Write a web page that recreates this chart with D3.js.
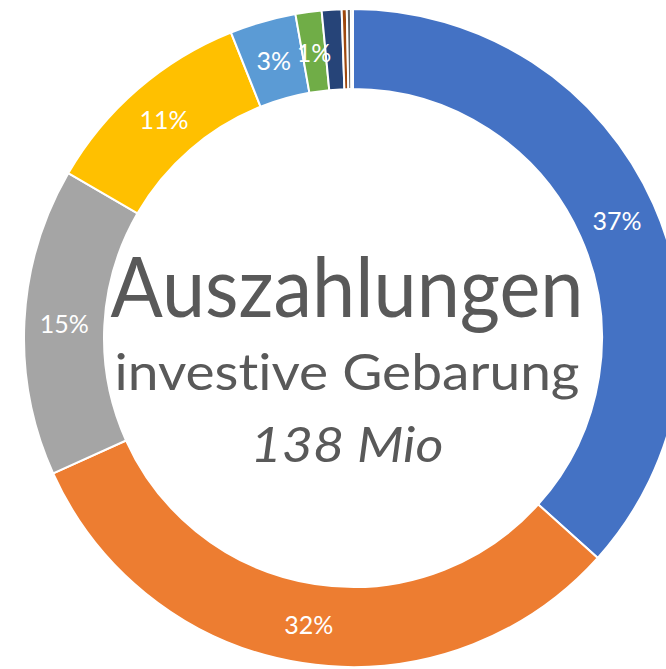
<!DOCTYPE html>
<html>
<head>
<meta charset="utf-8">
<script src="https://cdn.jsdelivr.net/npm/d3@7"></script>
<style>
  body { margin: 0; background: #fff; }
  svg { display: block; }
  text { font-variant-ligatures: none; font-feature-settings: "liga" 0; }
</style>
</head>
<body>
<svg width="666" height="669"></svg>
<script>
// Anteile der Auszahlungen (in %), im Uhrzeigersinn ab 12 Uhr
const categories = ["Posten 1", "Posten 2", "Posten 3", "Posten 4", "Posten 5",
                    "Posten 6", "Posten 7", "Posten 8", "Posten 9", "Posten 10"];
const shares = [36.65, 31.6, 15.1, 10.6, 3.25, 1.28, 0.97, 0.25, 0.2, 0.1];
const labels = ["37%", "32%", "15%", "11%", "3%", "1%", "", "", "", ""];
const colors = ["#4472C4", "#ED7D31", "#A5A5A5", "#FFC000", "#5B9BD5",
                "#70AD47", "#264478", "#9E480E", "#636363", "#997300"];
const centerLines = ["Auszahlungen", "investive Gebarung", "138 Mio"];

let svg = d3.select("svg"),
    cx = 353,
    cy = 338

let data = categories.map((c, i) => ({ name: c, value: shares[i], label: labels[i] }));

let color = d3.scaleOrdinal().domain(categories).range(colors);

let pie = d3.pie()
    .sort(null)
    .value(d => d.value);

let arc = d3.arc()
    .innerRadius(249)
    .outerRadius(329);

let g = svg.append("g").attr("transform", "translate(" + cx + "," + cy + ")");

let arcs = pie(data);

g.selectAll(".slice")
    .data(arcs)
    .enter()
    .append("path")
    .attr("class", "slice")
    .attr("d", arc)
    .attr("fill", d => color(d.data.name))
    .attr("stroke", "#fff")
    .attr("stroke-width", 2);

// Prozent-Beschriftungen in der Ringmitte
g.selectAll(".lbl")
    .data(arcs.filter(d => d.data.label))
    .enter()
    .append("text")
    .attr("class", "lbl")
    .attr("transform", d => "translate(" + arc.centroid(d) + ")")
    .attr("dy", "0.4em")
    .attr("text-anchor", "middle")
    .style("font-family", "Lato, sans-serif")
    .style("font-size", "25px")
    .attr("fill", "#fff")
    .text(d => d.data.label);

// Text in der Mitte
let tx = 347 - cx;
let lines = [
    { text: centerLines[0], y: 317, size: 84, width: 473, italic: false },
    { text: centerLines[1], y: 390, size: 51, width: 465, italic: false },
    { text: centerLines[2], y: 462, size: 48, width: 193, italic: true }
];

lines.forEach(l => {
    let t = g.append("text")
        .attr("x", tx)
        .attr("y", l.y - cy)
        .attr("text-anchor", "middle")
        .style("font-family", "Lato, sans-serif")
        .style("font-size", l.size + "px")
        .style("font-style", l.italic ? "italic" : "normal")
        .attr("fill", "#595959")
        .text(l.text);
    t.attr("textLength", l.width).attr("lengthAdjust", "spacingAndGlyphs");
});
</script>
</body>
</html>
